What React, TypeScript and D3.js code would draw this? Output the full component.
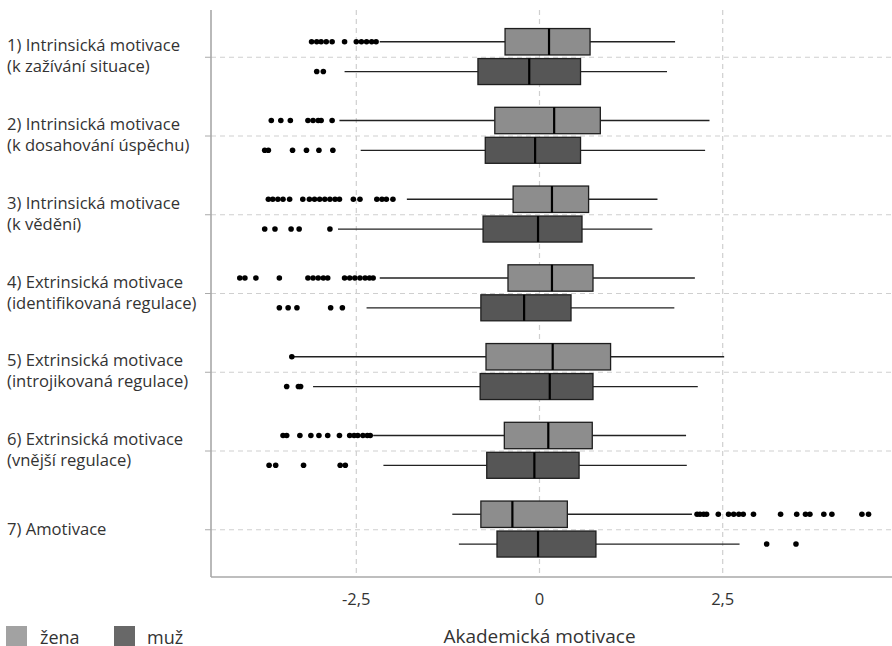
import React from "react";
import * as d3 from "d3";

// Motivation scales (two-line labels)
const categories = ["1", "2", "3", "4", "5", "6", "7"];
const categoryLabels: string[][] = [
  ["1) Intrinsická motivace", "(k zažívání situace)"],
  ["2) Intrinsická motivace", "(k dosahování úspěchu)"],
  ["3) Intrinsická motivace", "(k vědění)"],
  ["4) Extrinsická motivace", "(identifikovaná regulace)"],
  ["5) Extrinsická motivace", "(introjikovaná regulace)"],
  ["6) Extrinsická motivace", "(vnější regulace)"],
  ["7) Amotivace"],
];

// Box statistics per category: [lower whisker, Q1, median, Q3, upper whisker]
const zenaStats: number[][] = [
  [-2.18, -0.47, 0.13, 0.69, 1.85],
  [-2.73, -0.61, 0.2, 0.83, 2.32],
  [-1.81, -0.36, 0.17, 0.67, 1.61],
  [-2.18, -0.43, 0.17, 0.73, 2.12],
  [-3.35, -0.73, 0.18, 0.97, 2.52],
  [-2.27, -0.48, 0.12, 0.72, 2.0],
  [-1.19, -0.8, -0.37, 0.38, 2.08],
];
const muzStats: number[][] = [
  [-2.66, -0.84, -0.14, 0.56, 1.74],
  [-2.44, -0.74, -0.06, 0.56, 2.26],
  [-2.75, -0.77, -0.02, 0.58, 1.54],
  [-2.36, -0.8, -0.21, 0.43, 1.84],
  [-3.09, -0.81, 0.14, 0.73, 2.16],
  [-2.13, -0.72, -0.07, 0.54, 2.01],
  [-1.1, -0.58, -0.02, 0.77, 2.73],
];

// Outlying observations
const zenaOutliers: number[][] = [
  [-3.11, -3.04, -2.98, -2.91, -2.83, -2.66, -2.5, -2.43, -2.36, -2.29, -2.23],
  [-3.66, -3.53, -3.4, -3.16, -3.09, -3.02, -2.98, -2.83],
  [-3.7, -3.64, -3.57, -3.5, -3.41, -3.23, -3.14, -3.07, -3.0, -2.93, -2.86, -2.79, -2.73, -2.54, -2.45, -2.22, -2.15, -2.09, -2.0],
  [-4.09, -4.02, -3.87, -3.55, -3.16, -3.09, -3.02, -2.95, -2.89, -2.66, -2.59, -2.52, -2.45, -2.38, -2.32, -2.27],
  [-3.38],
  [-3.5, -3.45, -3.27, -3.12, -3.01, -2.89, -2.73, -2.59, -2.53, -2.48, -2.41, -2.35, -2.31],
  [2.15, 2.19, 2.24, 2.28, 2.44, 2.58, 2.65, 2.72, 2.78, 2.92, 3.29, 3.51, 3.63, 3.69, 3.88, 3.99, 4.4, 4.49],
];
const muzOutliers: number[][] = [
  [-3.04, -2.95],
  [-3.75, -3.7, -3.37, -3.18, -3.01, -2.82],
  [-3.75, -3.61, -3.39, -3.28, -2.86],
  [-3.55, -3.43, -3.31, -2.85, -2.69],
  [-3.45, -3.29, -3.26],
  [-3.69, -3.6, -3.22, -2.72, -2.65],
  [3.1, 3.5],
];

const xTicks = [-2.5, 0, 2.5];
const seriesNames = ["žena", "muž"];

const W = 892;
const H = 646;
const left = 211;
const top = 10;
const bottom = 577;
const FONT = "'Open Sans', 'Noto Sans', sans-serif";

const zenaFill = "#8d8d8d";
const muzFill = "#565656";

// Czech number format: decimal comma, plain hyphen for negatives
const tickLabel = (v: number) =>
  v === 0 ? "0" : (v < 0 ? "-" : "") + d3.format(".1f")(Math.abs(v)).replace(".", ",");

export default function App() {
  const x = d3.scaleLinear().domain([0, 2.5]).range([539.5, 722.7]);
  const y = d3.scalePoint<string>().domain(categories).range([top, bottom]).padding(0.6);

  const series = [
    { stats: zenaStats, outliers: zenaOutliers, fill: zenaFill, y0: -28.7, y1: -2.3 },
    { stats: muzStats, outliers: muzOutliers, fill: muzFill, y0: 1.3, y1: 27.3 },
  ];

  return (
    <svg width={W} height={H} style={{ position: "absolute", left: 0, top: 0, background: "#fff" }} fontFamily={FONT}>
      {/* grid */}
      {xTicks.map((t) => (
        <line key={"gx" + t} x1={x(t)} x2={x(t)} y1={top} y2={bottom} stroke="#cfcfcf" strokeWidth={1.2} strokeDasharray="5,4" />
      ))}
      {categories.map((c) => (
        <line key={"gy" + c} x1={left} x2={W} y1={y(c)} y2={y(c)} stroke="#cfcfcf" strokeWidth={1.2} strokeDasharray="5,4" />
      ))}
      {/* y ticks */}
      {categories.map((c) => (
        <line key={"ty" + c} x1={left - 6} x2={left} y1={y(c)} y2={y(c)} stroke="#aaa" strokeWidth={1} />
      ))}

      {/* boxes */}
      {series.map((s, si) =>
        categories.map((c, i) => {
          const [wl, q1, md, q3, wr] = s.stats[i];
          const cy = y(c)! + (s.y0 + s.y1) / 2;
          return (
            <g key={"b" + si + c}>
              <line x1={x(wl)} x2={x(q1)} y1={cy} y2={cy} stroke="#222" strokeWidth={1.3} />
              <line x1={x(q3)} x2={x(wr)} y1={cy} y2={cy} stroke="#222" strokeWidth={1.3} />
              <rect x={x(q1)} y={y(c)! + s.y0} width={x(q3) - x(q1)} height={s.y1 - s.y0} fill={s.fill} stroke="#1e1e1e" strokeWidth={1.3} />
              <line x1={x(md)} x2={x(md)} y1={y(c)! + s.y0} y2={y(c)! + s.y1} stroke="#000" strokeWidth={2.2} />
              {s.outliers[i].map((v, k) => (
                <circle key={k} cx={x(v)} cy={cy} r={2.8} fill="#000" />
              ))}
            </g>
          );
        })
      )}

      {/* axes */}
      <line x1={left} x2={left} y1={top} y2={bottom} stroke="#a8a8a8" strokeWidth={1.6} />
      <line x1={left} x2={W} y1={bottom} y2={bottom} stroke="#a8a8a8" strokeWidth={1.6} />

      {xTicks.map((t) => (
        <text key={"xl" + t} x={x(t)} y={605} textAnchor="middle" fontSize={16.5} fill="#333">
          {tickLabel(t)}
        </text>
      ))}

      {/* category labels */}
      {categories.map((c, i) => {
        const lines = categoryLabels[i];
        const base = lines.length === 2 ? y(c)! - 6 : y(c)! + 5;
        return (
          <text key={"cl" + c} x={7} y={base} fontSize={16.6} fill="#333">
            {lines.map((l, k) => (
              <tspan key={k} x={7} y={base + k * 21}>
                {l}
              </tspan>
            ))}
          </text>
        );
      })}

      {/* axis title */}
      <text x={x(0)} y={643} textAnchor="middle" fontSize={19} fill="#333">
        Akademická motivace
      </text>

      {/* legend */}
      {seriesNames.map((n, i) => (
        <g key={"lg" + n} transform={`translate(${i === 0 ? 6 : 114},626)`}>
          <rect width={21} height={21} fill={i === 0 ? "#a2a2a2" : "#686868"} />
          <text x={i === 0 ? 34 : 33} y={18} fontSize={18} fill="#333">
            {n}
          </text>
        </g>
      ))}
    </svg>
  );
}
